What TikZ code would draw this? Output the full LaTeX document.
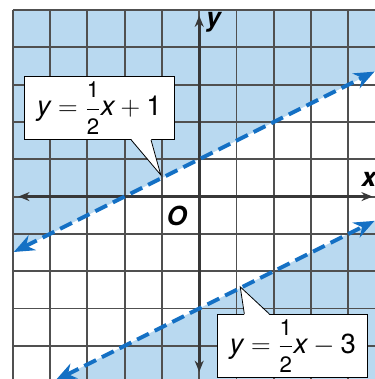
\documentclass[tikz,border=0pt]{standalone}
\usepackage{amsmath}
\usepackage{fontspec}
\setmainfont{TeX Gyre Heros}
\usetikzlibrary{arrows.meta, calc}

\definecolor{halfplane}{RGB}{185,217,240}
\definecolor{lineblue}{RGB}{20,112,196}
\definecolor{gridgray}{RGB}{80,80,80}

\newcommand{\halffrac}{\dfrac{\text{\fontsize{17}{19}\selectfont 1}}{\text{\fontsize{17}{19}\selectfont 2}}}

\tikzset{
  boundary/.style={lineblue, line width=3pt, dash pattern=on 10pt off 5pt,
    {Stealth[length=5.5mm,width=4.4mm]}-{Stealth[length=5.5mm,width=4.4mm]}},
  axis/.style={gridgray!70!black, line width=2pt,
    {Stealth[length=3mm,width=2.4mm]}-{Stealth[length=3mm,width=2.4mm]}},
  eqbox/.style={draw, fill=white, line width=0.6pt, minimum width=4.02cm,
    minimum height=1.69cm, font=\fontsize{21}{25}\selectfont},
  axlabel/.style={font=\fontsize{20}{24}\selectfont\bfseries\itshape}
}

\begin{document}
\begin{tikzpicture}
\useasboundingbox (-5.34,-4.89) rectangle (4.71,5.27);

% Shaded half-planes and grid
\begin{scope}
\clip (-5.1,-5.1) rectangle (5.1,5.1);
\fill[halfplane] (-5,-1.5) -- (5,3.5) -- (5,5) -- (-5,5) -- cycle;
\fill[halfplane] (-5,-5.5) -- (5,-0.5) -- (5,-5.5) -- cycle;
\draw[gridgray, line width=1.4pt] (-5,-5) grid (5,5);
\end{scope}

% Axes
\draw[axis] (-4.85,0) -- (4.65,0);
\draw[axis] (0,4.85) -- (0,-4.7);
\node[axlabel] (ylab) at (0.38,4.68) {y};
\node[axlabel] (xlab) at (4.55,0.45) {x};
\node[axlabel] (orig) at (-0.6,-0.52) {O};

% Boundary lines
\coordinate (a1) at (-4.97,-1.485);
\coordinate (a2) at (4.7,3.35);
\coordinate (b1) at (-3.85,-4.925);
\coordinate (b2) at (4.7,-0.65);
\draw[boundary] (a1) -- (a2);
\draw[boundary] (b1) -- (b2);

% Callouts
\node[eqbox] (eq1) at (-2.68,2.37)
  {$\text{\itshape y} = \halffrac\text{\itshape x} + \text{1}$};
\coordinate (tip1) at (-1.03,0.58);
\fill[white] ($(eq1.south)+(0.86,0.03)$) -- (tip1) -- ($(eq1.south)+(1.39,0.03)$) -- cycle;
\draw[line width=0.6pt] ($(eq1.south)+(0.86,0)$) -- (tip1) -- ($(eq1.south)+(1.39,0)$);

\node[eqbox] (eq2) at (2.51,-4.0)
  {$\text{\itshape y} = \halffrac\text{\itshape x} - \text{3}$};
\coordinate (tip2) at (1.1,-2.42);
\fill[white] ($(eq2.north)+(-1.30,-0.03)$) -- (tip2) -- ($(eq2.north)+(-0.63,-0.03)$) -- cycle;
\draw[line width=0.6pt] ($(eq2.north)+(-1.30,0)$) -- (tip2) -- ($(eq2.north)+(-0.63,0)$);

\end{tikzpicture}
\end{document}
